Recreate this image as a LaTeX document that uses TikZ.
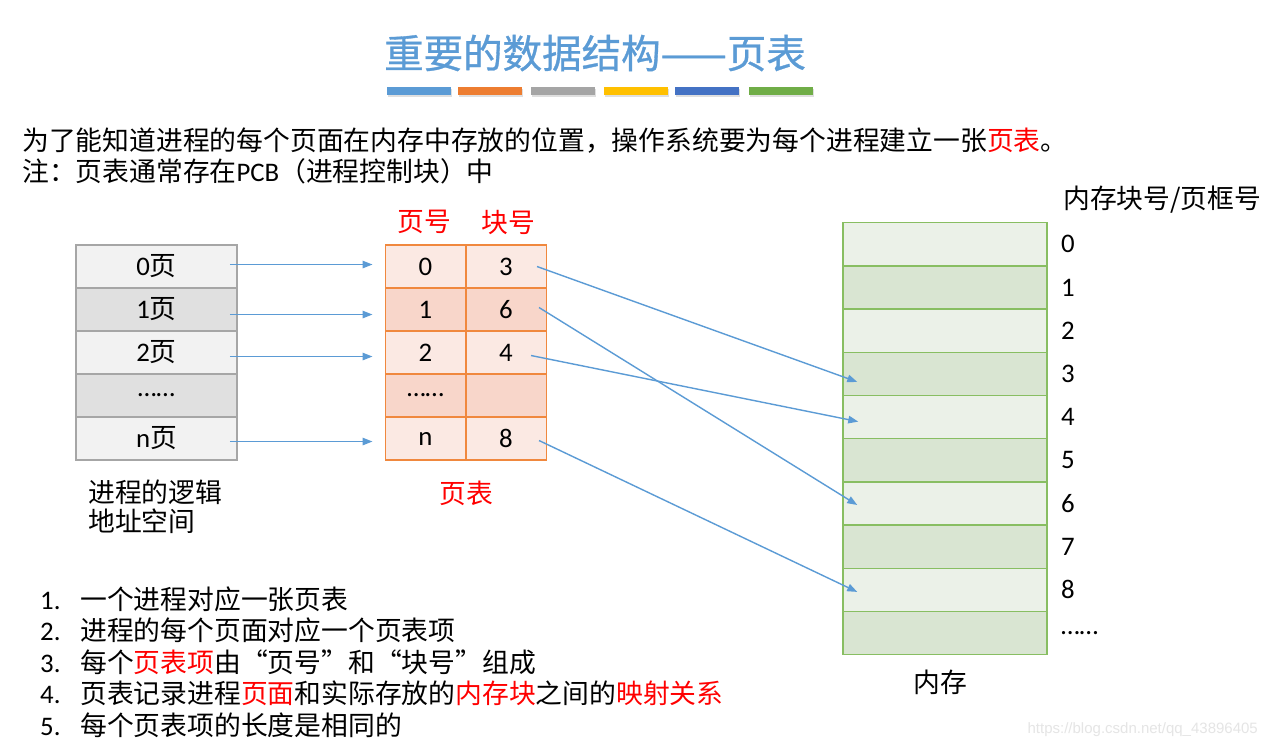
\documentclass[tikz,border=0pt]{standalone}
\usepackage{fontspec}
\setmainfont{Noto Sans CJK SC}
\newfontfamily\latin{Carlito}
\newfontfamily\weburl{Liberation Sans}
\newfontfamily\titlecn[FakeBold=0.8]{Noto Sans CJK SC}
\usepackage{xcolor}
\usepackage{tikz}
\usetikzlibrary{positioning,arrows.meta,shadows}

\definecolor{titleblue}{HTML}{5B9BD5}
\definecolor{barorange}{HTML}{ED7D31}
\definecolor{bargray}{HTML}{A5A5A5}
\definecolor{bargold}{HTML}{FFC000}
\definecolor{bardeep}{HTML}{4472C4}
\definecolor{bargreen}{HTML}{70AD47}
\definecolor{textred}{HTML}{FF0000}
\definecolor{pageborder}{HTML}{A6A6A6}
\definecolor{pagelight}{HTML}{F2F2F2}
\definecolor{pagedark}{HTML}{E0E0E0}
\definecolor{tabborder}{HTML}{F0883E}
\definecolor{tablight}{HTML}{FBE9E3}
\definecolor{tabdark}{HTML}{F8D6CA}
\definecolor{memborder}{HTML}{88BE62}
\definecolor{memlight}{HTML}{EBF1E8}
\definecolor{memdark}{HTML}{D9E5D2}
\definecolor{linkblue}{HTML}{5B9BD5}

\newcommand{\bodysize}{\fontsize{26.8}{30}\selectfont}
\newcommand{\titlesize}{\fontsize{39.5}{46}\selectfont}

\tikzset{
	txtnode/.style={inner sep=0pt, font=\bodysize},
	titlebar/.style={rectangle, minimum width=64pt, minimum height=7.5pt, inner sep=0pt, drop shadow={opacity=0.25, shadow xshift=1pt, shadow yshift=-2pt}},
	pagenode/.style={rectangle, draw=pageborder, line width=1.5pt, minimum width=161pt, minimum height=43pt, inner sep=0pt, font=\bodysize},
	tabnode/.style={rectangle, draw=tabborder, line width=1.5pt, minimum width=80.5pt, minimum height=43pt, inner sep=0pt, font=\bodysize},
	memnode/.style={rectangle, draw=memborder, line width=1.5pt, minimum width=204pt, minimum height=43.2pt, inner sep=0pt},
	link/.style={->, >={Triangle[length=10pt,width=7.5pt]}, draw=linkblue, line width=1.4pt}
}

\begin{document}
\begin{tikzpicture}[x=1pt, y=-1pt]
		\fill[white] (0,0) rectangle (1268,748);
		\useasboundingbox (0,0) rectangle (1268,748);
		
		%Title
		\node[inner sep=0pt, font=\titlesize\titlecn, text=titleblue] at (595,53) (title) {重要的数据结构——页表};
		\node[titlebar, fill=titleblue] at (418.5,91) (bar1) {};
		\node[titlebar, fill=barorange] at (489.5,91) (bar2) {};
		\node[titlebar, fill=bargray] at (562.5,91) (bar3) {};
		\node[titlebar, fill=bargold] at (635.5,91) (bar4) {};
		\node[titlebar, fill=bardeep] at (706.5,91) (bar5) {};
		\node[titlebar, fill=bargreen] at (780.5,91) (bar6) {};
		
		\node[txtnode, anchor=west] at (22,141) (intro) {为了能知道进程的每个页面在内存中存放的位置，操作系统要为每个进程建立一张\textcolor{textred}{页表}。};
		\node[txtnode, anchor=west] at (22,171) (note) {注：页表通常存在{\latin PCB}（进程控制块）中};
		
		%Logical address space
		\node[pagenode, fill=pagelight] at (156.5,266.5) (lp0) {{\latin 0}页};
		\node[pagenode, fill=pagedark] at (156.5,309.5) (lp1) {{\latin 1}页};
		\node[pagenode, fill=pagelight] at (156.5,352.5) (lp2) {{\latin 2}页};
		\node[pagenode, fill=pagedark] at (156.5,395.5) (lpd) {{\latin ……}};
		\node[pagenode, fill=pagelight] at (156.5,438.5) (lpn) {{\latin n}页};
		\node[txtnode, anchor=west, align=left, font=\fontsize{26.8}{29.5}\selectfont] at (88,506.5) (lplabel) {进程的逻辑\\地址空间};
		
		%Page table
		\node[txtnode, text=textred] at (424,222) (pghead) {页号};
		\node[txtnode, text=textred] at (508,222) (blkhead) {块号};
		\node[tabnode, fill=tablight] at (425.5,266.5) (tpg0) {\latin 0};
		\node[tabnode, fill=tablight] at (506,266.5) (tblk0) {\latin 3};
		\node[tabnode, fill=tabdark] at (425.5,309.5) (tpg1) {\latin 1};
		\node[tabnode, fill=tabdark] at (506,309.5) (tblk1) {\latin 6};
		\node[tabnode, fill=tablight] at (425.5,352.5) (tpg2) {\latin 2};
		\node[tabnode, fill=tablight] at (506,352.5) (tblk2) {\latin 4};
		\node[tabnode, fill=tabdark] at (425.5,395.5) (tpgd) {\latin ……};
		\node[tabnode, fill=tabdark] at (506,395.5) (tblkd) {};
		\node[tabnode, fill=tablight] at (425.5,438.5) (tpgn) {\latin n};
		\node[tabnode, fill=tablight] at (506,438.5) (tblkn) {\latin 8};
		\node[txtnode, text=textred] at (466,493) (tablabel) {页表};
		
		%Memory
		\node[memnode, fill=memlight] at (945,244.3) (mem0) {};
		\node[memnode, fill=memdark] at (945,287.5) (mem1) {};
		\node[memnode, fill=memlight] at (945,330.7) (mem2) {};
		\node[memnode, fill=memdark] at (945,373.9) (mem3) {};
		\node[memnode, fill=memlight] at (945,417.1) (mem4) {};
		\node[memnode, fill=memdark] at (945,460.3) (mem5) {};
		\node[memnode, fill=memlight] at (945,503.5) (mem6) {};
		\node[memnode, fill=memdark] at (945,546.7) (mem7) {};
		\node[memnode, fill=memlight] at (945,589.9) (mem8) {};
		\node[memnode, fill=memdark] at (945,633.1) (mem9) {};
		\node[txtnode] at (940,682) (memlabel) {内存};
		\node[txtnode, anchor=west] at (1063,200) (numhead) {内存块号/页框号};
		\node[txtnode, anchor=west, font=\bodysize\latin] at (1061,244.3) (num0) {0};
		\node[txtnode, anchor=west, font=\bodysize\latin] at (1061,287.5) (num1) {1};
		\node[txtnode, anchor=west, font=\bodysize\latin] at (1061,330.7) (num2) {2};
		\node[txtnode, anchor=west, font=\bodysize\latin] at (1061,373.9) (num3) {3};
		\node[txtnode, anchor=west, font=\bodysize\latin] at (1061,417.1) (num4) {4};
		\node[txtnode, anchor=west, font=\bodysize\latin] at (1061,460.3) (num5) {5};
		\node[txtnode, anchor=west, font=\bodysize\latin] at (1061,503.5) (num6) {6};
		\node[txtnode, anchor=west, font=\bodysize\latin] at (1061,546.7) (num7) {7};
		\node[txtnode, anchor=west, font=\bodysize\latin] at (1061,589.9) (num8) {8};
		\node[txtnode, anchor=west, font=\bodysize\latin] at (1061,633.1) (numd) {……};
		
		%Lines
		\draw[link] ([xshift=-8pt,yshift=2pt]lp0.east) -- ([xshift=-12pt,yshift=2pt]tpg0.west);
		\draw[link] ([xshift=-8pt,yshift=-5pt]lp1.east) -- ([xshift=-12pt,yshift=-5pt]tpg1.west);
		\draw[link] ([xshift=-8pt,yshift=-4pt]lp2.east) -- ([xshift=-12pt,yshift=-4pt]tpg2.west);
		\draw[link] ([xshift=-8pt,yshift=-3pt]lpn.east) -- ([xshift=-12pt,yshift=-3pt]tpgn.west);
		
		\draw[link] ([xshift=-10pt]tblk0.east) -- ([xshift=15pt,yshift=-8pt]mem3.west);
		\draw[link] ([xshift=-8pt,yshift=2pt]tblk1.east) -- ([xshift=15pt,yshift=-1.5pt]mem6.west);
		\draw[link] ([xshift=-16pt,yshift=-3pt]tblk2.east) -- ([xshift=16pt,yshift=-4.5pt]mem4.west);
		\draw[link] ([xshift=-8pt,yshift=-2pt]tblkn.east) -- ([xshift=15pt,yshift=-2pt]mem8.west);
		
		%Notes
		\node[txtnode, anchor=west] at (40,599) (item1) {\makebox[40pt][l]{\latin 1.}一个进程对应一张页表};
		\node[txtnode, anchor=west] at (40,630.5) (item2) {\makebox[40pt][l]{\latin 2.}进程的每个页面对应一个页表项};
		\node[txtnode, anchor=west] at (40,662) (item3) {\makebox[40pt][l]{\latin 3.}每个\textcolor{textred}{页表项}由“页号”和“块号”组成};
		\node[txtnode, anchor=west] at (40,693.5) (item4) {\makebox[40pt][l]{\latin 4.}页表记录进程\textcolor{textred}{页面}和实际存放的\textcolor{textred}{内存块}之间的\textcolor{textred}{映射关系}};
		\node[txtnode, anchor=west] at (40,725) (item5) {\makebox[40pt][l]{\latin 5.}每个页表项的长度是相同的};
		\node[inner sep=0pt, anchor=east, font=\fontsize{15}{17}\selectfont\weburl, text=black!10] at (1258,730) (url) {https://blog.csdn.net/qq\_43896405};
	\end{tikzpicture}
\end{document}
